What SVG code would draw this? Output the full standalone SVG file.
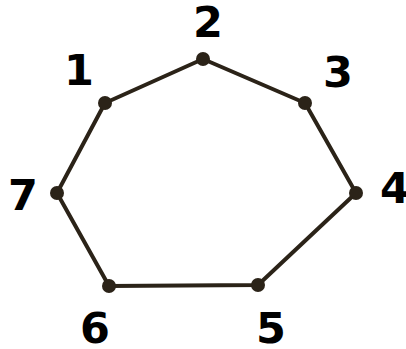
<svg xmlns="http://www.w3.org/2000/svg" width="406" height="349" viewBox="0 0 406 349">
<style>
.edge{stroke:#2b2318;stroke-width:4;fill:none;stroke-linejoin:round}
.dot{fill:#2b2318}
.lbl{font-family:"DejaVu Sans",sans-serif;font-weight:bold;font-size:43px;fill:#000;text-anchor:middle}
</style>
<rect width="406" height="349" fill="#fff"/>
<g id="connectors">
<polygon class="edge" points="105,103 203,59 305,103 356,193 258,285 109,286 57,193"/>
</g>
<g id="n1"><circle class="dot" cx="105" cy="103" r="7"/><text class="lbl" x="79" y="85">1</text></g>
<g id="n2"><circle class="dot" cx="203" cy="59" r="7"/><text class="lbl" x="208" y="37">2</text></g>
<g id="n3"><circle class="dot" cx="305" cy="103" r="7"/><text class="lbl" x="338" y="87">3</text></g>
<g id="n4"><circle class="dot" cx="356" cy="193" r="7"/><text class="lbl" x="395" y="203">4</text></g>
<g id="n5"><circle class="dot" cx="258" cy="285" r="7"/><text class="lbl" x="271" y="343">5</text></g>
<g id="n6"><circle class="dot" cx="109" cy="286" r="7"/><text class="lbl" x="95" y="343">6</text></g>
<g id="n7"><circle class="dot" cx="57" cy="193" r="7"/><text class="lbl" x="23" y="210">7</text></g>
</svg>
